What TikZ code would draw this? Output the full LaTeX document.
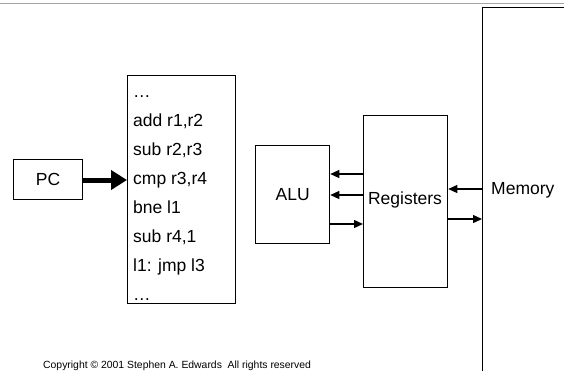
\documentclass[tikz,border=0pt]{standalone}
\usepackage{fontspec}
\setmainfont{Liberation Sans}
\usetikzlibrary{arrows.meta}
\begin{document}
\begin{tikzpicture}[x=1pt,y=-1pt,
  box/.style={draw,line width=1.3pt,rectangle,inner sep=0pt,anchor=north west},
  lbl/.style={font=\fontsize{17.5}{21}\selectfont,inner sep=0pt},
  arr/.style={line width=1.3pt,-{Triangle[length=9pt,width=8pt]}},
  bigarr/.style={line width=5pt,-{Triangle[length=16pt,width=19pt]}}]
\useasboundingbox (0,0) rectangle (564,370);
% rule across the top
\draw[gray!70,line width=1.5pt] (0,3.5) -- (564,3.5);
% blocks
\node[box,minimum width=69pt,minimum height=40pt] (pc) at (13,159) {};
\node[lbl] (pctxt) at (pc.center) {PC};
\node[box,minimum width=108pt,minimum height=228pt] (prog) at (127,75) {};
\node[box,minimum width=74pt,minimum height=98pt] (alu) at (255,145) {};
\node[lbl] (alutxt) at (alu.center) {ALU};
\node[box,minimum width=84pt,minimum height=172pt] (regs) at (363,115) {};
\node[lbl] (regtxt) at (405,200) {Registers};
\node[box,minimum width=100pt,minimum height=400pt] (mem) at (482,7) {};
\node[lbl,anchor=west] (memtxt) at (491,190) {Memory};
% program listing
\foreach \t [count=\i] in {\dots, {add r1,r2}, {sub r2,r3}, {cmp r3,r4}, {bne l1}, {sub r4,1}, {l1: jmp l3}, \dots}
  \node[lbl,anchor=base west] (line\i) at (133,{97+29*(\i-1)}) {\t};
% connections
\draw[bigarr] (pc.east |- 0,180) -- (prog.west |- 0,180);
\draw[arr] (regs.west |- 0,174) -- (alu.east |- 0,174);
\draw[arr] (regs.west |- 0,195) -- (alu.east |- 0,195);
\draw[arr] (alu.east |- 0,224) -- (regs.west |- 0,224);
\draw[arr] (mem.west |- 0,189) -- (regs.east |- 0,189);
\draw[arr] (regs.east |- 0,219) -- (mem.west |- 0,219);
% footer
\node[font=\fontsize{10.4}{12}\selectfont,anchor=base west,inner sep=0pt] (copy) at (43,368) {Copyright \textcopyright{} 2001 Stephen A. Edwards\ \ All rights reserved};
\end{tikzpicture}
\end{document}
